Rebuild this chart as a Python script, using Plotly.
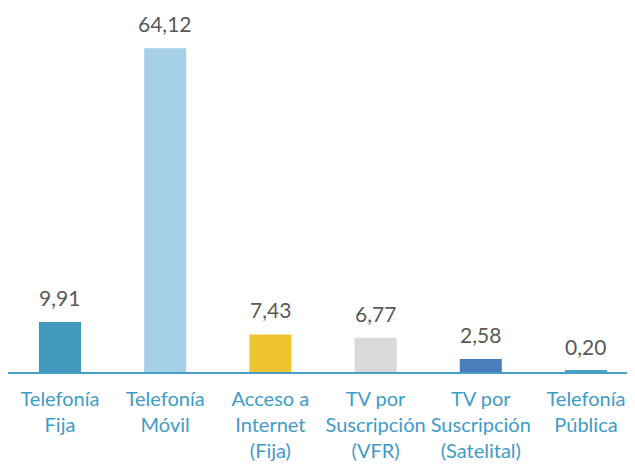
import plotly.graph_objects as go

categories = ["Telefonía<br>Fija", "Telefonía<br>Móvil", "Acceso a<br>Internet<br>(Fija)",
              "TV por<br>Suscripción<br>(VFR)", "TV por<br>Suscripción<br>(Satelital)", "Telefonía<br>Pública"]
values = [9.91, 64.12, 7.43, 6.77, 2.58, 0.20]
value_labels = ["9,91", "64,12", "7,43", "6,77", "2,58", "0,20"]
colors = ["#4399BB", "#A6D0E8", "#EDC42F", "#D9D9D9", "#4A7DBB", "#4BA3C6"]

FONT = "Lato, Open Sans, sans-serif"

fig = go.Figure()
fig.add_trace(go.Bar(
    x=list(range(len(categories))), y=values,
    marker=dict(color=colors, line=dict(width=0)),
    width=0.4,
    hoverinfo="skip",
))

for i, (v, t) in enumerate(zip(values, value_labels)):
    fig.add_annotation(x=i, y=v, text=t, showarrow=False, yanchor="bottom",
                       yshift=10, font=dict(family=FONT, size=21, color="#595959"))

fig.update_layout(
    width=635, height=465,
    margin=dict(l=0, r=0, t=2, b=101, autoexpand=False),
    paper_bgcolor="white", plot_bgcolor="white",
    showlegend=False,
)
fig.update_xaxes(
    tickmode="array", tickvals=list(range(len(categories))), ticktext=categories,
    range=[-0.494, 5.542],
    tickfont=dict(family=FONT, size=20, color="#3F9CC6"),
    showline=True, linecolor="#4A9FC8", linewidth=2,
    ticks="", showgrid=False, zeroline=False, automargin=False,
    ticklabelstandoff=8,
)
fig.update_yaxes(range=[0, 71.7], visible=False, showgrid=False, zeroline=False, automargin=False)

fig.write_html("out.html")
